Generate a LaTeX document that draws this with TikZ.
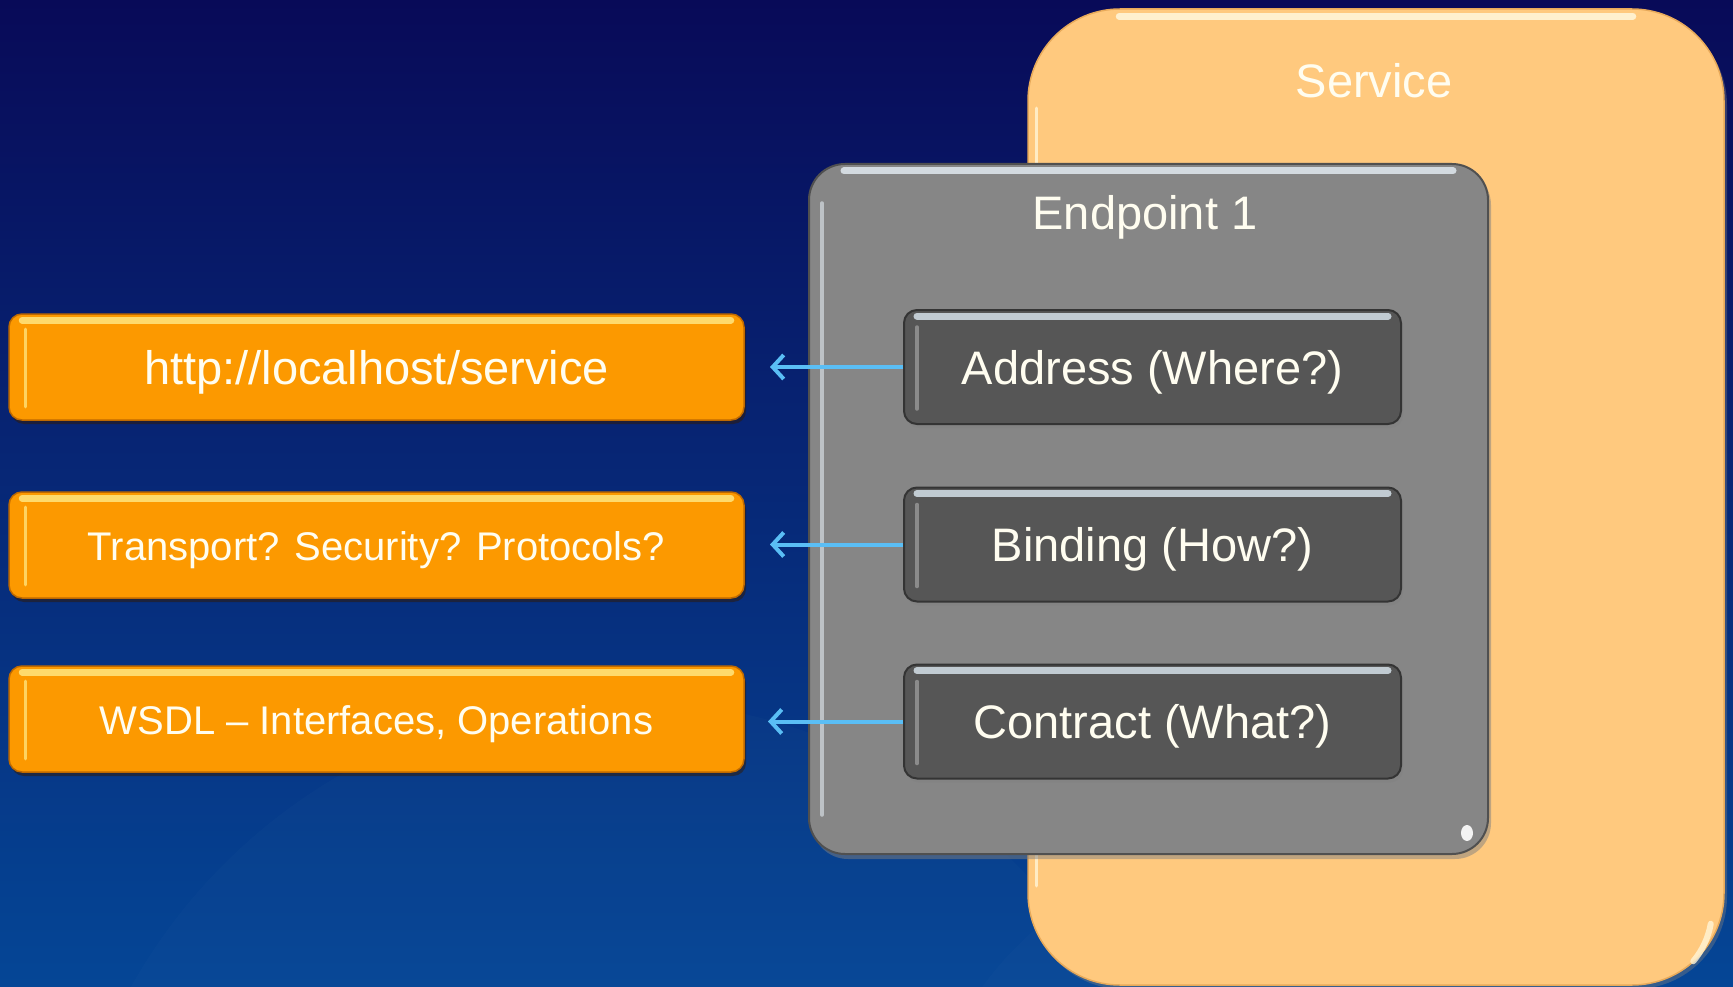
\documentclass[tikz,border=0pt]{standalone}
\usepackage{fontspec}
\setmainfont{Liberation Sans}
\usetikzlibrary{calc,arrows.meta,shadows}

\definecolor{bgtop}{RGB}{8,10,88}
\definecolor{bgbot}{RGB}{5,70,150}
\definecolor{svcfill}{RGB}{255,201,126}
\definecolor{svcedge}{RGB}{232,170,90}
\definecolor{svchi}{RGB}{255,245,215}
\definecolor{orfill}{RGB}{252,153,0}
\definecolor{oredge}{RGB}{190,105,0}
\definecolor{orhi}{RGB}{255,226,120}
\definecolor{epfill}{RGB}{134,134,134}
\definecolor{epedge}{RGB}{80,80,80}
\definecolor{ephi}{RGB}{220,228,234}
\definecolor{dkfill}{RGB}{86,86,86}
\definecolor{dkedge}{RGB}{52,52,52}
\definecolor{dkhi}{RGB}{205,216,224}
\definecolor{arrowblue}{RGB}{90,190,245}
\definecolor{txt}{RGB}{255,253,240}

% lower a label without changing the box it occupies
\newcommand{\lowered}[1]{\raisebox{-5pt}[\height][\depth]{#1}}

\tikzset{
  bigfont/.style={font=\fontsize{47}{50}\selectfont},
  smallfont/.style={font=\fontsize{40}{44}\selectfont},
  svcbox/.style={rectangle, rounded corners=92pt, fill=svcfill, draw=svcedge,
    line width=1.5pt, minimum width=696pt, minimum height=976pt, inner sep=0pt,
    drop shadow={opacity=0.4, shadow xshift=3pt, shadow yshift=-4pt}},
  epbox/.style={rectangle, rounded corners=36pt, fill=epfill, draw=epedge,
    line width=2pt, minimum width=679pt, minimum height=690pt, inner sep=0pt,
    drop shadow={opacity=0.5, shadow xshift=3pt, shadow yshift=-5pt}},
  darkbox/.style={rectangle, rounded corners=13pt, fill=dkfill, draw=dkedge,
    line width=2pt, minimum width=497pt, minimum height=114pt, inner sep=0pt,
    text=txt, bigfont,
    drop shadow={opacity=0.45, shadow xshift=2pt, shadow yshift=-4pt}},
  orbox/.style={rectangle, rounded corners=13pt, fill=orfill, draw=oredge,
    line width=1.5pt, minimum width=735pt, minimum height=106pt, inner sep=0pt,
    text=txt,
    drop shadow={opacity=0.5, fill=black!80!orange, shadow xshift=2pt, shadow yshift=-4pt}},
  caption/.style={text=txt, bigfont, inner sep=0pt},
  tophi/.style={line width=7pt, line cap=round, opacity=0.9},
  sidehi/.style={line width=3.5pt, line cap=round, opacity=0.8},
  conn/.style={draw=arrowblue, line width=4pt,
    -{Straight Barb[length=11pt, width=24pt, line width=4pt]}},
}

\begin{document}
\begin{tikzpicture}[x=1pt, y=-1pt]
  % backdrop
  \useasboundingbox (0,0) rectangle (1733,987);
  \shade[top color=bgtop, bottom color=bgbot] (0,0) rectangle (1733,987);
  \begin{scope}
    \clip (0,0) rectangle (1733,987);
    \fill[white, opacity=0.015] (620,1260) circle (560);
    \fill[white, opacity=0.015] (1250,1180) circle (330);
  \end{scope}

  % service container
  \node[svcbox] (svc) at (1376,497) {};
  \draw[svchi, tophi] ($(svc.north west)+(92,8)$) -- ($(svc.north east)+(-92,8)$);
  \draw[svchi, sidehi] ($(svc.north west)+(9,100)$) -- ($(svc.south west)+(9,-100)$);
  \draw[svchi, line width=6pt, line cap=round, opacity=0.8]
    ($(svc.south east)+(-14,-62)$) arc[start angle=10, end angle=40, radius=80];
  \node[caption] (svclabel) at (1374,81) {Service};

  % endpoint container
  \node[epbox] (ep) at (1148.5,509) {};
  \draw[ephi, tophi] ($(ep.north west)+(36,8)$) -- ($(ep.north east)+(-36,8)$);
  \draw[ephi!80!epfill, sidehi] ($(ep.north west)+(14,40)$) -- ($(ep.south west)+(14,-40)$);
  \fill[white, opacity=0.9] ($(ep.south east)+(-22,-22)$) ellipse[x radius=6, y radius=8];
  \node[caption] (eplabel) at (1145,217) {Endpoint 1};

  % endpoint parts
  \node[darkbox] (addr) at (1152.5,367) {\lowered{Address (Where?)}};
  \node[darkbox] (bind) at (1152.5,544.5) {\lowered{Binding (How?)}};
  \node[darkbox] (cont) at (1152.5,721.5) {\lowered{Contract (What?)}};
  \foreach \b in {addr,bind,cont}{
    \draw[dkhi, tophi] ($(\b.north west)+(14,7)$) -- ($(\b.north east)+(-14,7)$);
    \draw[gray!80, sidehi] ($(\b.north west)+(14,18)$) -- ($(\b.south west)+(14,-16)$);
  }

  % resolved values
  \node[orbox, bigfont] (url) at (376.5,367) {\lowered{http://localhost/service}};
  \node[orbox, smallfont] (proto) at (376.5,545) {\lowered{Transport? Security? Protocols?}};
  \node[orbox, smallfont] (wsdl) at (376.5,719) {\lowered{WSDL -- Interfaces, Operations}};
  \foreach \b in {url,proto,wsdl}{
    \draw[orhi, tophi] ($(\b.north west)+(14,7)$) -- ($(\b.north east)+(-14,7)$);
    \draw[orhi, sidehi] ($(\b.north west)+(17,16)$) -- ($(\b.south west)+(17,-14)$);
  }

  % connectors
  \coordinate (urltip) at (770,367);
  \coordinate (prototip) at (770,544.5);
  \coordinate (wsdltip) at (768,721.5);
  \draw[conn] (addr.west) -- (urltip);
  \draw[conn] (bind.west) -- (prototip);
  \draw[conn] (cont.west) -- (wsdltip);
\end{tikzpicture}
\end{document}
